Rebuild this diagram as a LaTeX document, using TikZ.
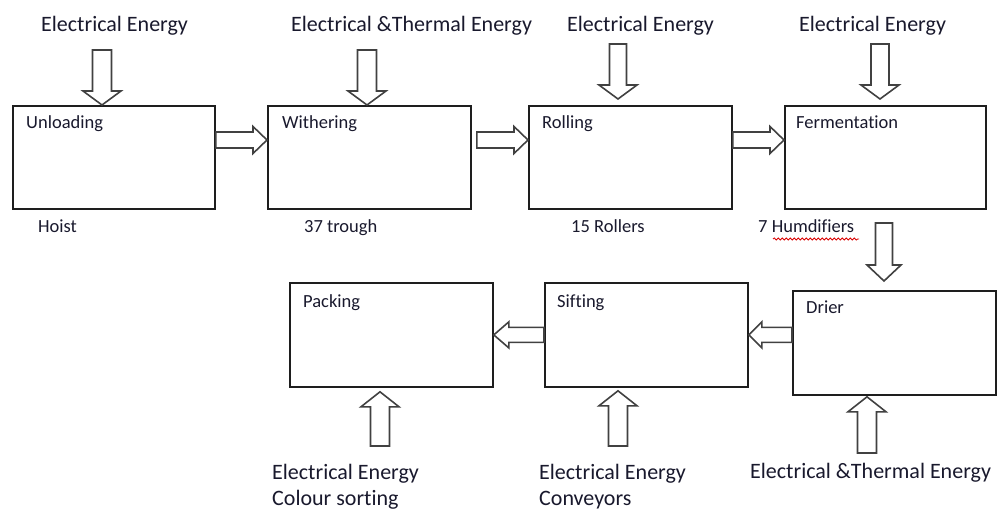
\documentclass[tikz,border=0pt]{standalone}
\usepackage{fontspec}
\setmainfont{Carlito}[Ligatures={NoCommon,NoRequired,NoContextual}]
\usetikzlibrary{calc,decorations.pathmorphing}
\definecolor{txt}{RGB}{25,25,45}
\definecolor{boxline}{RGB}{30,30,30}
\definecolor{arrline}{RGB}{65,65,65}
\newcommand\blockarrow[5]{%
  \coordinate (ba-s) at (#1);
  \coordinate (ba-e) at (#2);
  \coordinate (ba-h) at ($(ba-e)!#5!(ba-s)$);
  \draw[barrow] ($(ba-s)!#3!90:(ba-e)$) -- ($(ba-h)!#3!-90:(ba-s)$) -- ($(ba-h)!#4!-90:(ba-s)$) -- (ba-e) -- ($(ba-h)!#4!90:(ba-s)$) -- ($(ba-h)!#3!90:(ba-s)$) -- ($(ba-s)!#3!-90:(ba-e)$) -- cycle;}
\tikzset{
  box/.style={draw=boxline, line width=1.8pt, fill=white, anchor=north west, minimum height=103pt, inner sep=0pt},
  barrow/.style={draw=arrline, line width=1.6pt, fill=white, line join=miter},
  title/.style={anchor=west, inner sep=0pt, text=txt, text height=15pt, text depth=5pt, font=\fontsize{22}{26}\selectfont},
  lbl/.style={anchor=west, inner sep=0pt, text=txt, text height=13pt, text depth=4pt, font=\fontsize{18.5}{22}\selectfont},
}
\begin{document}
\begin{tikzpicture}[x=1pt,y=-1pt]
\useasboundingbox (0,0) rectangle (997,511);
% top row boxes
\node[box, minimum width=202pt] (unl) at (12,105) {};
\node[box, minimum width=203pt] (wit) at (267,105) {};
\node[box, minimum width=203pt] (rol) at (528,105) {};
\node[box, minimum width=201pt] (fer) at (784,105) {};
% bottom row boxes
\node[box, minimum width=203pt, minimum height=104pt] (pac) at (289,282) {};
\node[box, minimum width=203pt, minimum height=104pt] (sif) at (544,282) {};
\node[box, minimum width=203pt, minimum height=104pt] (dri) at (792,290) {};
% box labels
\node[lbl] (unl-l) at ($(unl.north west)+(14,19)$) {Unloading};
\node[lbl] (wit-l) at ($(wit.north west)+(15,19)$) {Withering};
\node[lbl] (rol-l) at ($(rol.north west)+(14,19)$) {Rolling};
\node[lbl] (fer-l) at ($(fer.north west)+(12,19)$) {Fermentation};
\node[lbl] (pac-l) at ($(pac.north west)+(14,21)$) {Packing};
\node[lbl] (sif-l) at ($(sif.north west)+(13,21)$) {Sifting};
\node[lbl] (dri-l) at ($(dri.north west)+(14,19)$) {Drier};
% labels under top boxes
\node[lbl] (hoist) at (38,228) {Hoist};
\node[lbl] (trough) at (304,228) {37 trough};
\node[lbl] (rollers) at (571,228) {15 Rollers};
\node[lbl] (hum) at (758,228) {7 Humdifiers};
\draw[red!85!black, line width=0.8pt, decorate, decoration={snake, amplitude=1.1pt, segment length=4pt}] (773,239) -- (859,239);
% energy titles top
\node[title] (t1) at (41,27) {Electrical Energy};
\node[title] (t2) at (291,27) {Electrical \&Thermal Energy};
\node[title] (t3) at (567,27) {Electrical Energy};
\node[title] (t4) at (799,27) {Electrical Energy};
% energy titles bottom
\node[title] (b1) at (272,474) {Electrical Energy};
\node[title] (b1b) at (272,500) {Colour sorting};
\node[title] (b2) at (539,474) {Electrical Energy};
\node[title] (b2b) at (539,500) {Conveyors};
\node[title] (b3) at (750,473) {Electrical \&Thermal Energy};
% input arrow start points
\coordinate (i1) at (102,50);
\coordinate (i2) at (367,50);
\coordinate (i3) at (618,44);
\coordinate (i4) at (880,44);
\coordinate (fd) at (884,223);
\coordinate (i5) at (380,446);
\coordinate (i6) at (618,446);
\coordinate (i7) at (867,453);
% vertical arrows (top)
\blockarrow{i1}{i1 |- unl.north}{9.5pt}{19pt}{14pt}
\blockarrow{i2}{i2 |- wit.north}{9.5pt}{19pt}{14pt}
\blockarrow{i3}{$(i3 |- rol.north)+(0,-6)$}{8.5pt}{19pt}{14pt}
\blockarrow{i4}{$(i4 |- fer.north)+(0,-6)$}{9pt}{19pt}{14pt}
\blockarrow{fd}{$(fd |- dri.north)+(0,-9)$}{8.5pt}{17pt}{16pt}
% vertical arrows (bottom, up)
\blockarrow{i5}{$(i5 |- pac.south)+(0,4)$}{9.5pt}{19pt}{15pt}
\blockarrow{i6}{$(i6 |- sif.south)+(0,3)$}{9.5pt}{19pt}{15pt}
\blockarrow{i7}{$(i7 |- dri.south)+(0,1)$}{9.5pt}{19pt}{15pt}
% horizontal arrows top row
\coordinate (h1) at ($(unl.north east)+(0,35)$);
\coordinate (h2) at ($(wit.north east)+(5,35)$);
\coordinate (h3) at ($(rol.north east)+(0,35)$);
\blockarrow{h1}{h1 -| wit.west}{8pt}{13.5pt}{14pt}
\blockarrow{h2}{h2 -| rol.west}{8pt}{13.5pt}{14pt}
\blockarrow{h3}{h3 -| fer.west}{8pt}{13.5pt}{14pt}
% horizontal arrows bottom row (leftward)
\coordinate (h4) at (sif.center -| dri.west);
\blockarrow{h4}{sif.east}{7.5pt}{13pt}{13pt}
\blockarrow{sif.west}{pac.east}{7.5pt}{13pt}{15pt}
\end{tikzpicture}
\end{document}
